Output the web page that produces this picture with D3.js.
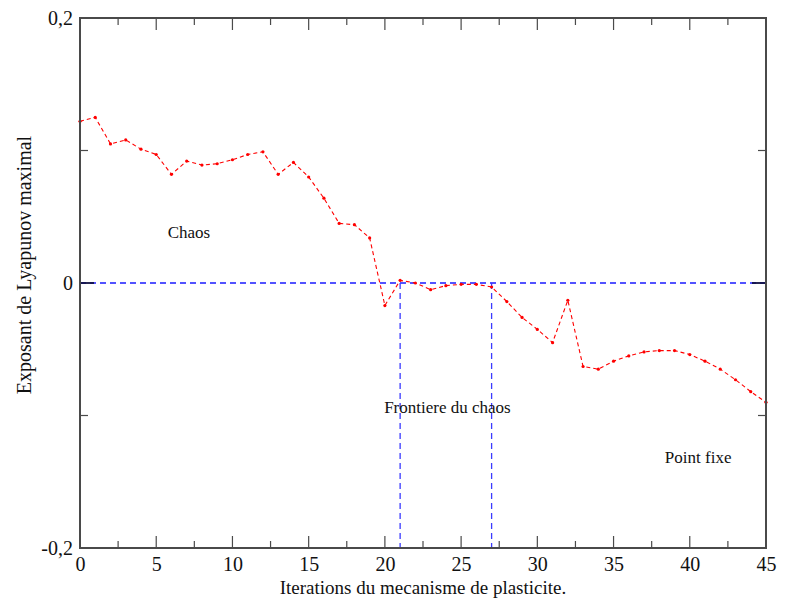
<!DOCTYPE html>
<html>
<head>
<meta charset="utf-8">
<script src="https://cdn.jsdelivr.net/npm/d3@7"></script>
<style>
  html, body { margin: 0; padding: 0; background: #fff; }
  svg { display: block; }
  text { font-family: "Liberation Serif", "Times New Roman", serif; fill: #111; }
</style>
</head>
<body>
<svg id="chart" width="785" height="600"></svg>
<script>
// ---- data ----
const iterations = d3.range(0, 46);
const lyapunov = [0.122, 0.125, 0.105, 0.108, 0.101, 0.097, 0.082, 0.092, 0.089, 0.090,
  0.093, 0.097, 0.099, 0.082, 0.091, 0.080, 0.064, 0.045, 0.044, 0.034,
  -0.017, 0.002, 0.000, -0.005, -0.002, -0.001, -0.001, -0.003, -0.014, -0.026,
  -0.035, -0.045, -0.013, -0.063, -0.065, -0.059, -0.055, -0.052, -0.051, -0.051,
  -0.054, -0.059, -0.065, -0.073, -0.082, -0.090];
const frontierX = [21, 27];
const xTickLabels = [0, 5, 10, 15, 20, 25, 30, 35, 40, 45];
const yTickLabels = [0.2, 0, -0.2];
const annotations = [
  { text: "Chaos", x: 7.15, y: 0.034 },
  { text: "Frontiere du chaos", x: 24.1, y: -0.098 },
  { text: "Point fixe", x: 40.55, y: -0.136 }
];

// ---- layout ----
const W = 785, H = 600;
const m = { left: 80, right: 19, top: 18, bottom: 52 };
const svg = d3.select("#chart");
const x = d3.scaleLinear().domain([0, 45]).range([m.left, W - m.right]);
const y = d3.scaleLinear().domain([-0.2, 0.2]).range([H - m.bottom, m.top]);
const axisColor = "#4a4a4a";
const fmt = d => d === 0 ? "0" : d3.format(".1f")(d).replace(".", ",").replace("\u2212", "-");

const g = svg.append("g");

// zero line
g.append("line")
  .attr("x1", x(0)).attr("x2", x(45)).attr("y1", y(0)).attr("y2", y(0))
  .attr("stroke", "#1a1aff").attr("stroke-width", 1.3).attr("stroke-dasharray", "6,4");

// frontier vertical lines
g.selectAll(".vline").data(frontierX).join("line")
  .attr("x1", d => x(d)).attr("x2", d => x(d))
  .attr("y1", y(0)).attr("y2", y(-0.2))
  .attr("stroke", "#3a3aff").attr("stroke-width", 1.3).attr("stroke-dasharray", "6,4");

// data line
const pts = iterations.map((it, i) => [it, lyapunov[i]]);
g.append("path").datum(pts)
  .attr("fill", "none").attr("stroke", "#ff0000").attr("stroke-width", 1.1)
  .attr("stroke-dasharray", "4,3")
  .attr("d", d3.line().x(d => x(d[0])).y(d => y(d[1])));
g.selectAll(".dot").data(pts).join("circle")
  .attr("cx", d => x(d[0])).attr("cy", d => y(d[1])).attr("r", 1.6)
  .attr("fill", "#ff0000");

// ticks drawn inward
const xTicks = d3.range(0, 45.1, 2.5).filter(v => v > 0 && v < 45);
const yTicks = [0.1, 0, -0.1];
g.selectAll(".xtb").data(xTicks).join("line")
  .attr("x1", d => x(d)).attr("x2", d => x(d))
  .attr("y1", y(-0.2)).attr("y2", d => y(-0.2) - (d % 5 === 0 ? 12 : 7))
  .attr("stroke", axisColor).attr("stroke-width", 1.2);
g.selectAll(".xtt").data(xTicks).join("line")
  .attr("x1", d => x(d)).attr("x2", d => x(d))
  .attr("y1", y(0.2)).attr("y2", d => y(0.2) + (d % 5 === 0 ? 12 : 7))
  .attr("stroke", axisColor).attr("stroke-width", 1.2);
g.selectAll(".ytl").data(yTicks).join("line")
  .attr("x1", x(0)).attr("x2", d => x(0) + (d === 0 ? 14 : 8))
  .attr("y1", d => y(d)).attr("y2", d => y(d))
  .attr("stroke", d => d === 0 ? "#101040" : axisColor).attr("stroke-width", d => d === 0 ? 1.8 : 1.2);
g.selectAll(".ytr").data(yTicks).join("line")
  .attr("x1", x(45)).attr("x2", d => x(45) - (d === 0 ? 14 : 8))
  .attr("y1", d => y(d)).attr("y2", d => y(d))
  .attr("stroke", d => d === 0 ? "#101040" : axisColor).attr("stroke-width", d => d === 0 ? 1.8 : 1.2);

g.append("rect")
  .attr("x", x(0)).attr("y", y(0.2))
  .attr("width", x(45) - x(0)).attr("height", y(-0.2) - y(0.2))
  .attr("fill", "none").attr("stroke", axisColor).attr("stroke-width", 2);

// tick labels
const xAx = svg.append("g").attr("transform", `translate(0,${y(-0.2)})`)
  .call(d3.axisBottom(x).tickValues(xTickLabels).tickSize(0).tickPadding(9).tickFormat(d3.format("d")));
xAx.select(".domain").remove();
xAx.selectAll("text").attr("font-size", 20).attr("fill", "#111")
  .attr("font-family", "Liberation Serif, serif");

const yAx = svg.append("g").attr("transform", `translate(${x(0)},0)`)
  .call(d3.axisLeft(y).tickValues(yTickLabels).tickSize(0).tickPadding(7).tickFormat(fmt));
yAx.select(".domain").remove();
yAx.selectAll("text").attr("font-size", 20).attr("fill", "#111")
  .attr("font-family", "Liberation Serif, serif");

// axis titles
svg.append("text")
  .attr("x", (x(0) + x(45)) / 2).attr("y", 594)
  .attr("text-anchor", "middle").attr("font-size", 19)
  .text("Iterations du mecanisme de plasticite.");
svg.append("text")
  .attr("transform", `translate(31,${(y(0.2) + y(-0.2)) / 2 - 18}) rotate(-90)`)
  .attr("text-anchor", "middle").attr("font-size", 20)
  .text("Exposant de Lyapunov maximal");

// annotations
svg.selectAll(".ann").data(annotations).join("text")
  .attr("x", d => x(d.x)).attr("y", d => y(d.y))
  .attr("text-anchor", "middle").attr("font-size", 17)
  .text(d => d.text);
</script>
</body>
</html>
